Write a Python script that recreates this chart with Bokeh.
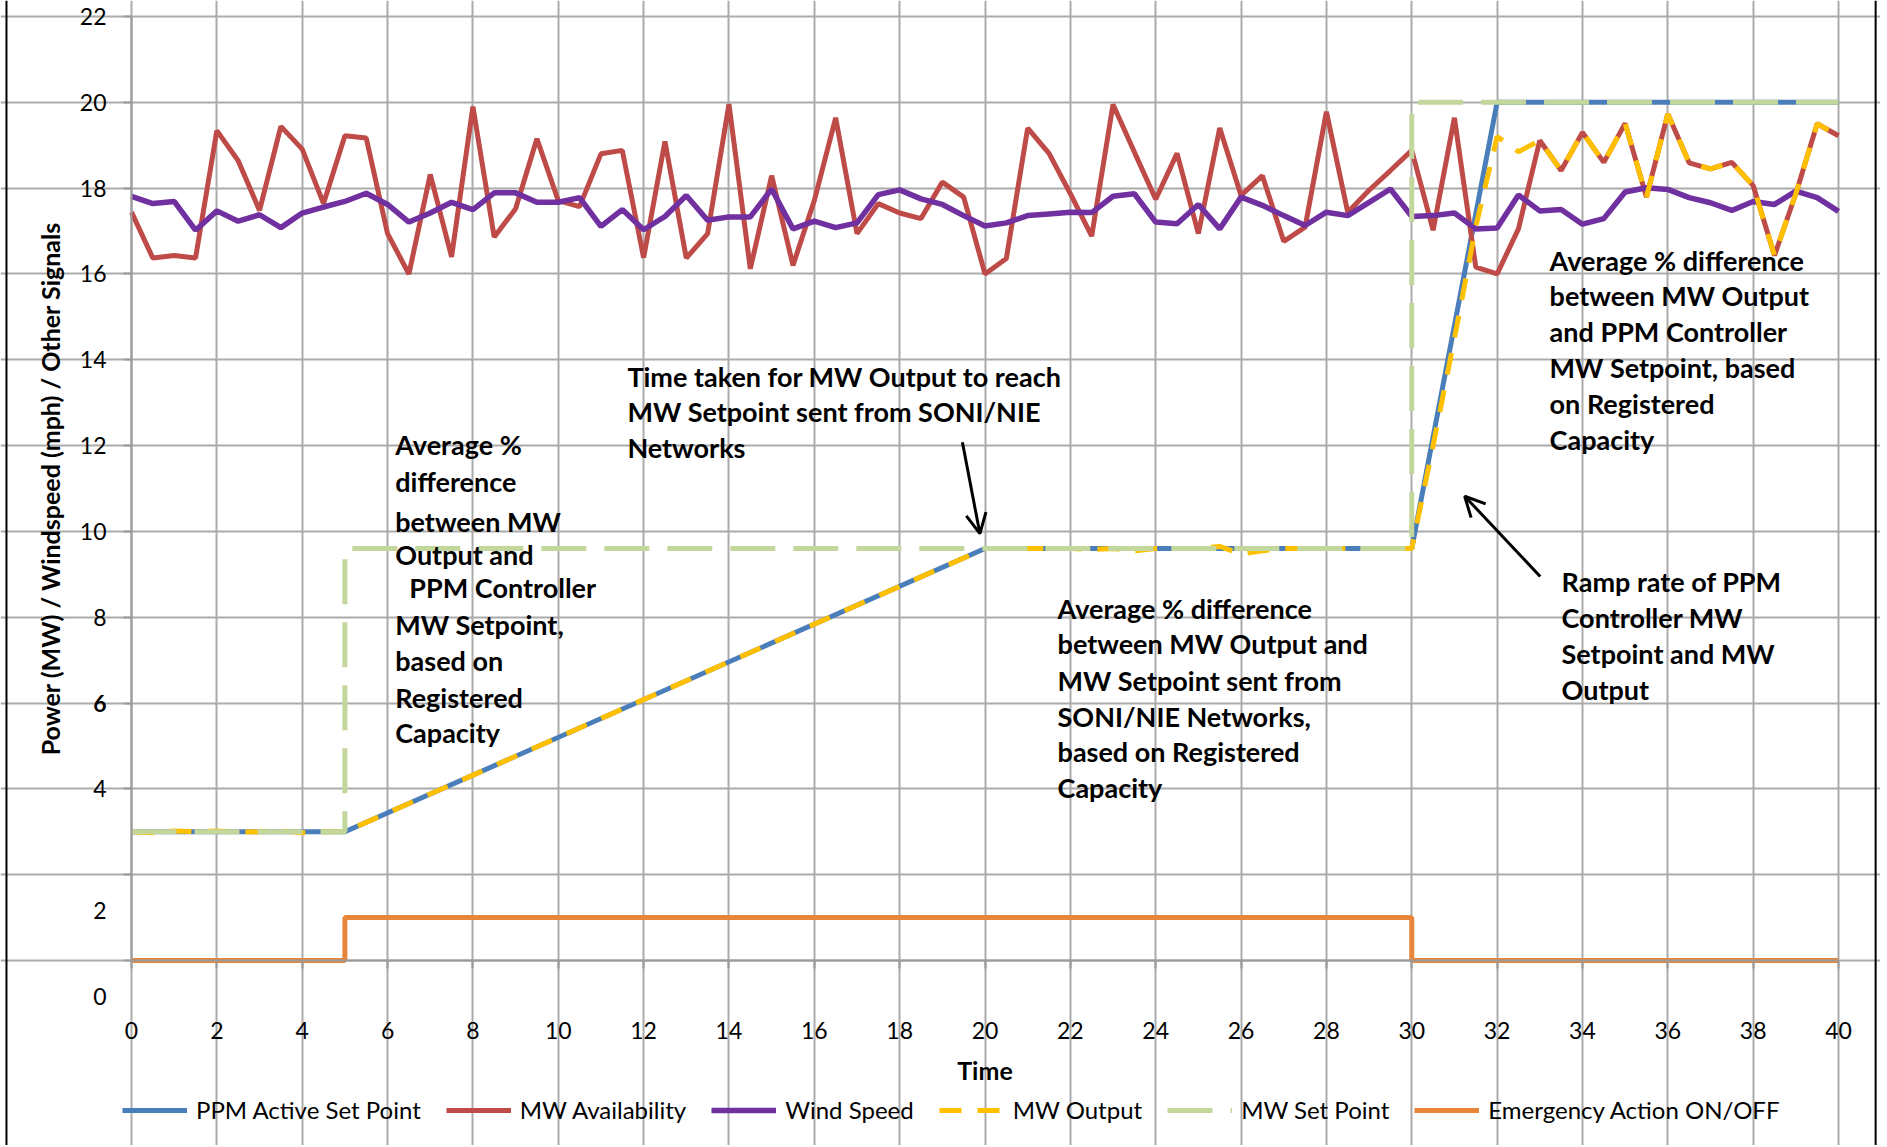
from bokeh.plotting import figure
from bokeh.models import (FixedTicker, Legend, LegendItem, Label, Arrow, OpenHead, Span)
from bokeh.embed import file_html
from bokeh.resources import INLINE

# ---------------- data ----------------
time = [0.0, 0.5, 1.0, 1.5, 2.0, 2.5, 3.0, 3.5, 4.0, 4.5, 5.0, 5.5, 6.0, 6.5, 7.0, 7.5,
        8.0, 8.5, 9.0, 9.5, 10.0, 10.5, 11.0, 11.5, 12.0, 12.5, 13.0, 13.5, 14.0, 14.5,
        15.0, 15.5, 16.0, 16.5, 17.0, 17.5, 18.0, 18.5, 19.0, 19.5, 20.0, 20.5, 21.0,
        21.5, 22.0, 22.5, 23.0, 23.5, 24.0, 24.5, 25.0, 25.5, 26.0, 26.5, 27.0, 27.5,
        28.0, 28.5, 29.0, 29.5, 30.0, 30.5, 31.0, 31.5, 32.0, 32.5, 33.0, 33.5, 34.0,
        34.5, 35.0, 35.5, 36.0, 36.5, 37.0, 37.5, 38.0, 38.5, 39.0, 39.5, 40.0]

mw_availability = [17.44, 16.37, 16.43, 16.37, 19.34, 18.64, 17.48, 19.44, 18.91, 17.64,
                   19.22, 19.17, 16.94, 16.00, 18.32, 16.40, 19.90, 16.86, 17.52, 19.15,
                   17.71, 17.57, 18.80, 18.88, 16.38, 19.09, 16.37, 16.94, 19.96, 16.12,
                   18.29, 16.20, 17.71, 19.64, 16.94, 17.64, 17.42, 17.29, 18.14, 17.79,
                   16.00, 16.36, 19.40, 18.81, 17.87, 16.88, 19.95, 18.84, 17.74, 18.81,
                   16.94, 19.40, 17.83, 18.29, 16.76, 17.09, 19.78, 17.44, 17.95, 18.41,
                   18.88, 17.02, 19.64, 16.16, 16.00, 17.05, 19.11, 18.41, 19.30, 18.60,
                   19.51, 17.79, 19.73, 18.59, 18.45, 18.60, 18.06, 16.43, 17.87, 19.50,
                   19.22]

wind_speed = [17.81, 17.64, 17.69, 17.02, 17.47, 17.23, 17.38, 17.08, 17.42, 17.56,
              17.69, 17.88, 17.62, 17.21, 17.42, 17.67, 17.50, 17.89, 17.89, 17.67,
              17.67, 17.78, 17.11, 17.50, 17.03, 17.34, 17.83, 17.25, 17.33, 17.33,
              17.98, 17.05, 17.23, 17.08, 17.19, 17.85, 17.96, 17.75, 17.62, 17.36,
              17.12, 17.19, 17.36, 17.40, 17.44, 17.43, 17.81, 17.87, 17.21, 17.17,
              17.62, 17.05, 17.79, 17.60, 17.36, 17.13, 17.44, 17.36, 17.67, 17.98,
              17.34, 17.36, 17.42, 17.05, 17.07, 17.84, 17.47, 17.50, 17.16, 17.29,
              17.91, 18.01, 17.97, 17.78, 17.66, 17.48, 17.69, 17.62, 17.93, 17.78,
              17.46]

mw_output = [3.00, 2.98, 3.02, 3.00, 3.02, 2.99, 3.00, 3.02, 2.98, 3.00,
             3.00, 3.22, 3.44, 3.66, 3.88, 4.10, 4.32, 4.54, 4.76, 4.98,
             5.20, 5.42, 5.64, 5.86, 6.08, 6.30, 6.52, 6.74, 6.96, 7.18,
             7.40, 7.62, 7.84, 8.06, 8.28, 8.50, 8.72, 8.94, 9.16, 9.38,
             9.60, 9.60, 9.60, 9.60, 9.60, 9.58, 9.60, 9.55, 9.60, 9.60,
             9.60, 9.65, 9.47, 9.55, 9.60, 9.60, 9.60, 9.60, 9.60, 9.60,
             9.60, 12.00, 14.50, 17.10, 19.20, 18.85, 19.11, 18.41, 19.30, 18.60,
             19.51, 17.79, 19.73, 18.59, 18.45, 18.60, 18.06, 16.43, 17.87, 19.50,
             19.22]

ppm_time = [0, 5, 20, 30, 32, 40]
ppm_active_set_point = [3.0, 3.0, 9.6, 9.6, 20.0, 20.0]

setpoint_time = [0, 5, 5, 30, 30, 40]
mw_set_point = [3.0, 3.0, 9.6, 9.6, 20.0, 20.0]

emergency_time = [0, 5, 5, 30, 30, 40]
emergency_action = [0, 0, 1, 1, 0, 0]

x_ticks = [0, 2, 4, 6, 8, 10, 12, 14, 16, 18, 20, 22, 24, 26, 28, 30, 32, 34, 36, 38, 40]
y_ticks = [0, 2, 4, 6, 8, 10, 12, 14, 16, 18, 20, 22]

series_names = ["PPM Active Set Point", "MW Availability", "Wind Speed",
                "MW Output", "MW Set Point", "Emergency Action ON/OFF"]

# ---------------- styling ----------------
FONT = "Lato"
GRID = "#ABABAB"
AXIS = "#9A9A9A"
C_BLUE = "#4A7EBB"
C_RED = "#BE4B48"
C_PURPLE = "#7030A0"
C_YELLOW = "#FFC000"
C_GREEN = "#C3D69B"
C_ORANGE = "#E8863C"

# The frame fills the whole canvas; axes are pinned at x=0 / y=0 inside it
p = figure(width=1880, height=1145, x_range=(-3.070, 40.984), y_range=(-4.311, 22.373),
           output_backend="svg", toolbar_location=None,
           min_border=0, min_border_left=0, min_border_right=0,
           min_border_top=0, min_border_bottom=0)
p.background_fill_color = "white"
p.border_fill_color = "white"
p.outline_line_color = None

for ax in (p.xaxis[0], p.yaxis[0]):
    ax.fixed_location = 0
    ax.axis_line_color = AXIS
    ax.axis_line_width = 2
    ax.major_tick_line_color = AXIS
    ax.major_tick_line_width = 2
    ax.major_tick_out = 8
    ax.major_tick_in = 0
    ax.minor_tick_line_color = None
    ax.major_label_text_font = FONT
    ax.major_label_text_font_size = "23px"
    ax.major_label_text_color = "black"
    ax.axis_label_text_font = FONT
    ax.axis_label_text_font_style = "bold"
    ax.axis_label_text_color = "black"

p.xaxis.bounds = (0, 40)
p.yaxis.bounds = (0, 22)
p.xaxis.ticker = FixedTicker(ticks=x_ticks)
p.yaxis.ticker = FixedTicker(ticks=y_ticks)
p.xaxis.axis_label = "Time"
p.yaxis.axis_label = "Power (MW) / Windspeed (mph) / Other Signals"
p.xaxis.axis_label_text_font_size = "25px"
p.yaxis.axis_label_text_font_size = "25px"
p.xaxis.major_label_standoff = 53
p.xaxis.axis_label_standoff = 13
p.yaxis.major_label_standoff = 17
p.yaxis.axis_label_standoff = 12
p.yaxis.major_label_overrides = {0: "", 2: "", 6: ""}

p.grid.grid_line_color = GRID
p.grid.grid_line_width = 2
p.xgrid.ticker = FixedTicker(ticks=x_ticks)
p.ygrid.ticker = FixedTicker(ticks=y_ticks)
p.xgrid.bounds = (0, 22)
p.ygrid.bounds = (0, 40)

# displaced / bold y tick labels as in the reference
for txt, yy, style in [("2", 1.17, "normal"), ("0", -0.84, "normal"), ("6", 6.0, "bold")]:
    p.add_layout(Label(x=-0.585, y=yy, text=txt, text_align="right", text_baseline="middle",
                       text_font=FONT, text_font_size="23px", text_font_style=style,
                       text_color="black"))

# black side borders of the picture
for bx in (-2.93, 40.87):
    p.add_layout(Span(location=bx, dimension="height", line_color="black", line_width=2))

# ---------------- series ----------------
LW = 5
r_ppm = p.line(ppm_time, ppm_active_set_point, line_color=C_BLUE, line_width=LW)
r_avail = p.line(time, mw_availability, line_color=C_RED, line_width=LW)
r_wind = p.line(time, wind_speed, line_color=C_PURPLE, line_width=5.5)
r_out = p.line(time, mw_output, line_color=C_YELLOW, line_width=LW, line_dash="22 16")
r_sp = p.line(setpoint_time, mw_set_point, line_color=C_GREEN, line_width=LW,
              line_dash="45 18")
r_em = p.line(emergency_time, emergency_action, line_color=C_ORANGE, line_width=LW)

renderers = [r_ppm, r_avail, r_wind, r_out, r_sp, r_em]
legend = Legend(items=[LegendItem(label=n, renderers=[r]) for n, r in zip(series_names, renderers)],
                orientation="horizontal", location=(122, 21),
                label_text_font=FONT, label_text_font_size="24px", label_text_color="black",
                glyph_width=65, glyph_height=28, label_standoff=9, spacing=25,
                padding=0, margin=0, border_line_alpha=0, background_fill_alpha=0)
p.add_layout(legend)

# ---------------- annotations ----------------
ANN = dict(text_font=FONT, text_font_size="27px", text_font_style="bold",
           text_color="black", text_align="left", text_baseline="middle")

notes = [
    (6.18, 12.03, "Average %"), (6.18, 11.17, "difference"), (6.18, 10.24, "between MW"),
    (6.18, 9.47, "Output and"), (6.51, 8.70, "PPM Controller"), (6.18, 7.84, "MW Setpoint,"),
    (6.18, 7.00, "based on"), (6.18, 6.13, "Registered"), (6.18, 5.32, "Capacity"),
    (11.62, 13.61, "Time taken for MW Output to reach"),
    (11.62, 12.80, "MW Setpoint sent from SONI/NIE"),
    (11.62, 11.96, "Networks"),
    (21.70, 8.21, "Average % difference"), (21.70, 7.39, "between MW Output and"),
    (21.70, 6.53, "MW Setpoint sent from"), (21.70, 5.69, "SONI/NIE Networks,"),
    (21.70, 4.88, "based on Registered"), (21.70, 4.04, "Capacity"),
    (33.23, 16.31, "Average % difference"), (33.23, 15.50, "between MW Output"),
    (33.23, 14.67, "and PPM Controller"), (33.23, 13.83, "MW Setpoint, based"),
    (33.23, 12.99, "on Registered"), (33.23, 12.15, "Capacity"),
    (33.51, 8.84, "Ramp rate of PPM"), (33.51, 8.00, "Controller MW"),
    (33.51, 7.16, "Setpoint and MW"), (33.51, 6.32, "Output"),
]
for nx, ny, nt in notes:
    p.add_layout(Label(x=nx, y=ny, text=nt, **ANN))

p.add_layout(Arrow(end=OpenHead(size=20, line_width=3, line_color="black"),
                   x_start=19.47, y_start=12.08, x_end=19.88, y_end=9.95,
                   line_width=3, line_color="black"))
p.add_layout(Arrow(end=OpenHead(size=20, line_width=3, line_color="black"),
                   x_start=33.01, y_start=8.95, x_end=31.24, y_end=10.82,
                   line_width=3, line_color="black"))

open("out.html", "w").write(file_html(p, INLINE))
